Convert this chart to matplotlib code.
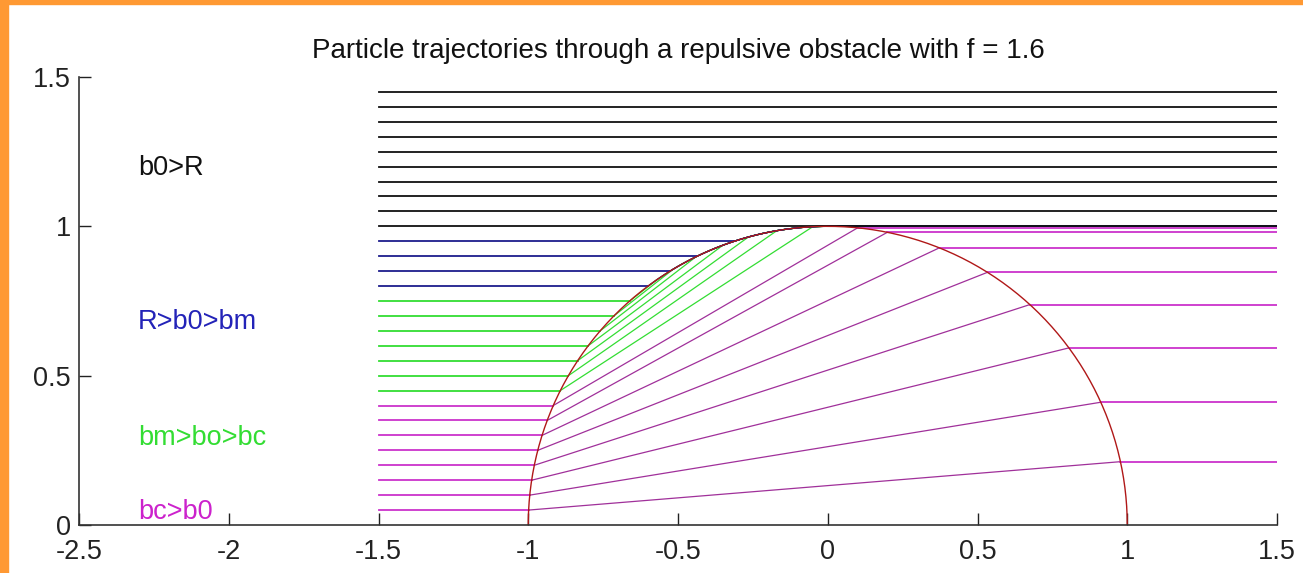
import numpy as np
import matplotlib
matplotlib.use("Agg")
import matplotlib.pyplot as plt
from matplotlib.patches import Rectangle

# ---- data ----
R = 1.0
b0_black = [1.00, 1.05, 1.10, 1.15, 1.20, 1.25, 1.30, 1.35, 1.40, 1.45]
b0_blue = [0.80, 0.85, 0.90, 0.95]
b0_green = [0.45, 0.50, 0.55, 0.60, 0.65, 0.70, 0.75]
green_hit_x = [-0.05, -0.17, -0.265, -0.35, -0.44, -0.515, -0.57]
b0_magenta = [0.05, 0.10, 0.15, 0.20, 0.25, 0.30, 0.35, 0.40]
magenta_exit_y = [0.212, 0.411, 0.593, 0.738, 0.846, 0.928, 0.980, 0.995]
xticks = [-2.5, -2, -1.5, -1, -0.5, 0, 0.5, 1, 1.5]
xtick_labels = ["-2.5", "-2", "-1.5", "-1", "-0.5", "0", "0.5", "1", "1.5"]
yticks = [0, 0.5, 1, 1.5]
ytick_labels = ["0", "0.5", "1", "1.5"]
labels = ["b0>R", "R>b0>bm", "bm>bo>bc", "bc>b0"]
label_y = [1.172, 0.656, 0.268, 0.019]
title = "Particle trajectories through a repulsive obstacle with f = 1.6"

C_BLACK = "#111111"
C_BLUE = "#1c1c8c"
C_GREEN = "#33dd33"
C_MAG = "#cc33cc"
C_MAG_IN = "#a0309a"
C_RED = "#b01818"
C_TXT_BLUE = "#2323b8"

plt.rcParams["font.family"] = ["Liberation Sans", "DejaVu Sans"]
plt.rcParams["axes.unicode_minus"] = False

fig = plt.figure(figsize=(13.03, 5.73), dpi=100, facecolor="white")
# orange frame (left and top)
fig.patches.append(Rectangle((0, 0), 8 / 1303, 1, transform=fig.transFigure,
                             color="#ff9933", zorder=-10))
fig.patches.append(Rectangle((0, 1 - 4 / 573), 1, 4 / 573, transform=fig.transFigure,
                             color="#ff9933", zorder=-10))

ax = fig.add_axes([79 / 1303, 48 / 573, (1277 - 79) / 1303, (525 - 77) / 573])
XL, XR = -1.5, 1.5


def arc(phi_start, phi_end, n=60):
    ph = np.linspace(phi_start, phi_end, n)
    return R * np.cos(ph), R * np.sin(ph)


lw_out = 1.3
lw_in = 0.9

# green: horizontal, chord to boundary, creep to top, then horizontal at y=R
for b, hx in zip(b0_green, green_hit_x):
    xin = -np.sqrt(R**2 - b**2)
    hy = np.sqrt(R**2 - hx**2)
    ax.plot([XL, xin], [b, b], color=C_GREEN, lw=lw_out)
    ax.plot([xin, hx], [b, hy], color=C_GREEN, lw=lw_in)
    ax_, ay_ = arc(np.arctan2(hy, hx), np.pi / 2)
    ax.plot(ax_, ay_, color=C_GREEN, lw=lw_in)

# blue: horizontal, creep along boundary to top, then horizontal
for b in b0_blue:
    xin = -np.sqrt(R**2 - b**2)
    ax.plot([XL, xin], [b, b], color=C_BLUE, lw=lw_out)
    ax_, ay_ = arc(np.arctan2(b, xin), np.pi / 2)
    ax.plot(ax_, ay_, color=C_BLUE, lw=lw_in)
    ax.plot([0, XR], [R, R], color=C_BLUE, lw=lw_out)

# magenta: horizontal, straight chord, horizontal exit
for b, ye in zip(b0_magenta, magenta_exit_y):
    xin = -np.sqrt(R**2 - b**2)
    xe = np.sqrt(R**2 - ye**2)
    ax.plot([XL, xin], [b, b], color=C_MAG, lw=lw_out)
    ax.plot([xin, xe], [b, ye], color=C_MAG_IN, lw=lw_in)
    ax.plot([xe, XR], [ye, ye], color=C_MAG, lw=lw_out)

# black: straight through
for b in b0_black:
    ax.plot([XL, XR], [b, b], color=C_BLACK, lw=lw_out)

# obstacle
cx, cy = arc(0, np.pi, 200)
ax.plot(cx, cy, color=C_RED, lw=1.0)

for lab, yy, col in zip(labels, label_y, [C_BLACK, C_TXT_BLUE, C_GREEN, "#cc22cc"]):
    ax.text(-2.303, yy, lab, color=col, fontsize=19.5, va="baseline", ha="left")

ax.set_xlim(-2.5, 1.5)
ax.set_ylim(0, 1.5)
ax.set_xticks(xticks)
ax.set_xticklabels(xtick_labels)
ax.set_yticks(yticks)
ax.set_yticklabels(ytick_labels)
ax.tick_params(direction="in", length=8.5, width=1.0, labelsize=19.5, colors="#222222",
               pad=6)
ax.tick_params(axis="x", pad=10)
for s in ["top", "right"]:
    ax.spines[s].set_visible(False)
for s in ["left", "bottom"]:
    ax.spines[s].set_color("#333333")
    ax.spines[s].set_linewidth(1.2)
ax.set_title(title, fontsize=20, pad=14, color="#111111")

fig.savefig("out.png", dpi=100, facecolor="white")
